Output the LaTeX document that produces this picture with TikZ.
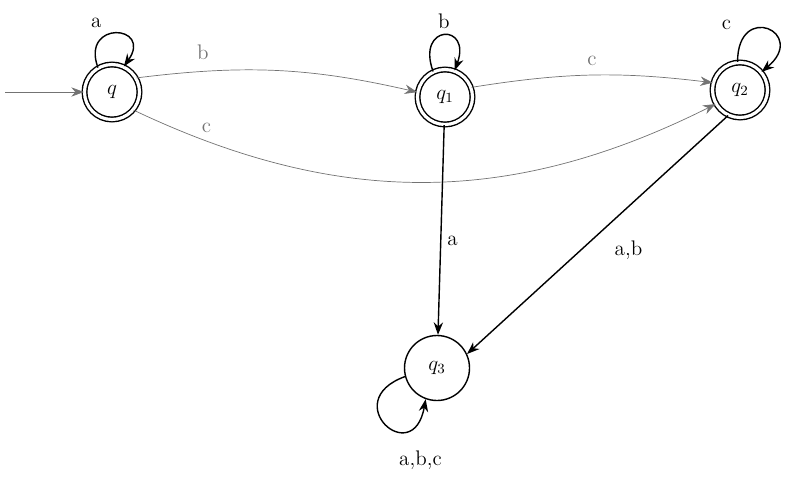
\documentclass[tikz,border=0pt]{standalone}
\usepackage{amsmath,amssymb}
\usetikzlibrary{arrows.meta, positioning, calc}

\begin{document}
\begin{tikzpicture}[
  st/.style={circle, draw, thick, minimum size=1.1cm, inner sep=0pt, font=\large},
  acc/.style={double, double distance=1.8pt},
  edge/.style={-{Stealth[length=2.5mm]}, black!55},
  darkedge/.style={-{Stealth[length=2.5mm]}, thick},
  lbl/.style={font=\large}
]
\useasboundingbox (0,0) rectangle (15.8,9.52);

\node[st, acc] (q0) at (2.24,7.68) {$q$};
\node[st, acc] (q1) at (8.9,7.58) {$q_1$};
\node[st, acc] (q2) at (14.8,7.72) {$q_2$};
\node[st, minimum size=1.3cm] (q3) at (8.74,2.16) {$q_3$};

\coordinate (start) at (0.1,7.68);
\draw[edge] (start) -- (q0);

% transitions
\draw[edge] (q0.30) to[bend left=10] node[lbl, above, pos=0.22, yshift=3pt] {b} (q1.170);
\draw[edge] (q1.20) to[bend left=8] node[lbl, above, pos=0.5, yshift=2pt] {c} (q2.165);
\draw[edge] (q0.-40) to[bend right=26] node[lbl, above, pos=0.12, yshift=1pt] {c} (q2.-150);
\draw[darkedge] (q1) -- node[lbl, right, pos=0.55] {a} (q3);
\draw[darkedge] (q2.-115) -- node[lbl, below right, pos=0.5, xshift=6pt] {a,b} (q3.25);

% self loops
\draw[darkedge] (q0.120) to[out=110, in=55, looseness=5] node[lbl, above left, pos=0.4] {a} (q0.65);
\draw[darkedge] (q1.115) to[out=110, in=70, looseness=6] node[lbl, above, pos=0.5] {b} (q1.70);
\draw[darkedge] (q2.95) to[out=90, in=40, looseness=6] node[lbl, left, pos=0.2, xshift=-4pt, yshift=6pt] {c} (q2.40);
\draw[darkedge] (q3.195) to[out=200, in=260, looseness=6] node[lbl, below, pos=0.7, yshift=-8pt, xshift=10pt] {a,b,c} (q3.250);

\end{tikzpicture}
\end{document}
